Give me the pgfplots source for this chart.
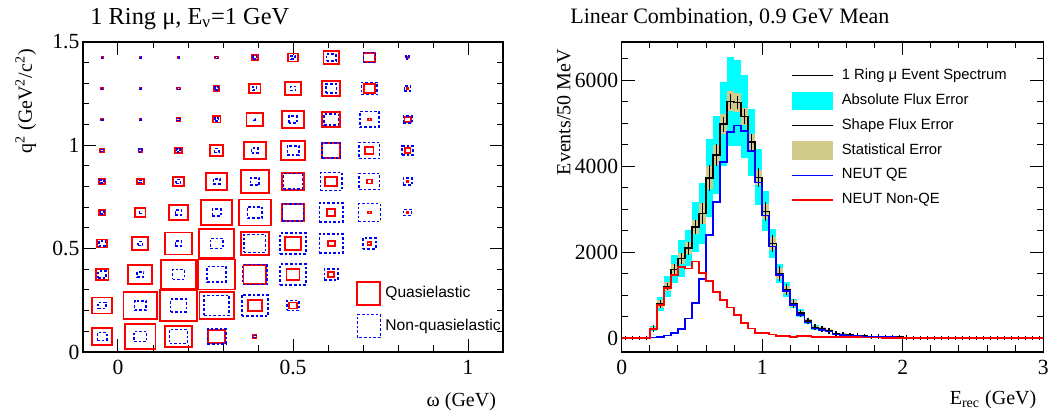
\documentclass[border=0pt]{standalone}
\usepackage{fontspec}
\setmainfont{Liberation Serif}
\newfontfamily\hv{Liberation Sans}
\usepackage{pgfplots}
\usepackage{pgfplotstable}
\pgfplotsset{compat=1.18}
\definecolor{stattan}{HTML}{D1CB8C}
\definecolor{rootcyan}{RGB}{0,255,255}

% box sizes as a fraction of the bin (QE red, non-QE blue)
\pgfplotstableread{
x y q n
-0.0455 0.075 0.53 0.25
0.0636 0.075 0.79 0.33
0.1727 0.075 0.70 0.46
0.2818 0.075 0.44 0.48
0.3909 0.075 0.09 0.07
-0.0455 0.225 0.51 0.20
0.0636 0.225 0.87 0.30
0.1727 0.225 0.98 0.41
0.2818 0.225 0.89 0.65
0.3909 0.225 0.37 0.68
0.5000 0.225 0.19 0.31
-0.0455 0.375 0.33 0.21
0.0636 0.375 0.63 0.17
0.1727 0.375 0.92 0.31
0.2818 0.375 0.97 0.50
0.3909 0.375 0.59 0.63
0.5000 0.375 0.34 0.67
0.6091 0.375 0.16 0.35
-0.0455 0.525 0.26 0.17
0.0636 0.525 0.42 0.12
0.1727 0.525 0.71 0.16
0.2818 0.525 0.92 0.33
0.3909 0.525 0.72 0.57
0.5000 0.525 0.40 0.67
0.6091 0.525 0.18 0.61
0.7182 0.525 0.10 0.34
-0.0455 0.675 0.14 0.09
0.0636 0.675 0.27 0.05
0.1727 0.675 0.49 0.16
0.2818 0.675 0.80 0.22
0.3909 0.675 0.84 0.37
0.5000 0.675 0.56 0.56
0.6091 0.675 0.21 0.61
0.7182 0.675 0.07 0.57
0.8273 0.675 0.03 0.20
-0.0455 0.825 0.14 0.10
0.0636 0.825 0.18 0.07
0.1727 0.825 0.28 0.12
0.2818 0.825 0.54 0.17
0.3909 0.825 0.74 0.23
0.5000 0.825 0.57 0.50
0.6091 0.825 0.31 0.57
0.7182 0.825 0.13 0.53
0.8273 0.825 0.05 0.22
-0.0455 0.975 0.10 0.07
0.0636 0.975 0.09 0.09
0.1727 0.975 0.17 0.09
0.2818 0.975 0.34 0.12
0.3909 0.975 0.57 0.16
0.5000 0.975 0.63 0.30
0.6091 0.975 0.48 0.48
0.7182 0.975 0.21 0.53
0.8273 0.975 0.15 0.28
-0.0455 1.125 0.04 0.04
0.0636 1.125 0.035 0.035
0.1727 1.125 0.10 0.07
0.2818 1.125 0.20 0.09
0.3909 1.125 0.43 0.035
0.5000 1.125 0.56 0.22
0.6091 1.125 0.48 0.37
0.7182 1.125 0.07 0.50
0.8273 1.125 0.16 0.22
-0.0455 1.275 0.04 0.035
0.0636 1.275 0.035 0.035
0.1727 1.275 0.07 0.05
0.2818 1.275 0.14 0.09
0.3909 1.275 0.30 0.10
0.5000 1.275 0.41 0.14
0.6091 1.275 0.48 0.28
0.7182 1.275 0.28 0.40
0.8273 1.275 0.04 0.16
-0.0455 1.425 0.035 0.035
0.0636 1.425 0.035 0.035
0.1727 1.425 0.035 0.03
0.2818 1.425 0.07 0.05
0.3909 1.425 0.16 0.09
0.5000 1.425 0.26 0.10
0.6091 1.425 0.40 0.24
0.7182 1.425 0.31 0.31
0.8273 1.425 0.05 0.09
}\boxtab

% 50 MeV bins, left edges; last row closes the histogram
\pgfplotstableread{
e tot qe nqe abs stat shp
0.00 0 0 0 0 0 0
0.05 0 0 0 0 0 0
0.10 0 0 0 0 0 0
0.15 0 0 0 0 0 0
0.20 215 12 203 60 40 30
0.25 790 30 760 155 100 40
0.30 1200 60 1170 250 110 45
0.35 1600 120 1470 330 120 65
0.40 1850 218 1645 430 130 80
0.45 2090 452 1620 420 140 100
0.50 2580 820 1780 585 170 120
0.55 2900 1380 1520 720 250 200
0.60 3730 2400 1330 910 270 250
0.65 4260 3160 1080 915 235 210
0.70 4980 4100 880 985 235 130
0.75 5510 4800 710 1030 230 120
0.80 5480 4950 530 1000 220 110
0.85 5160 4820 350 975 200 120
0.90 4560 4350 220 780 190 140
0.95 3740 3620 125 650 180 170
1.00 2950 2850 115 470 170 170
1.05 2200 2130 80 330 150 150
1.10 1500 1466 40 215 120 120
1.15 1120 1090 40 175 100 80
1.20 800 765 30 110 80 60
1.25 580 530 55 85 60 35
1.30 395 360 40 58 50 30
1.35 250 220 30 58 40 25
1.40 210 180 25 40 40 20
1.45 170 150 15 35 35 20
1.50 95 80 15 25 30 15
1.55 80 65 15 20 25 15
1.60 68 52 15 18 20 12
1.65 55 40 15 15 18 10
1.70 45 32 13 12 15 10
1.75 38 26 12 10 12 8
1.80 32 22 10 8 10 8
1.85 27 18 9 6 10 6
1.90 22 14 8 5 8 6
1.95 18 11 7 4 8 5
2.00 8 5 3 2 5 4
2.05 6 4 2 2 4 3
2.10 5 3 2 1 4 3
2.15 4 3 1 1 3 3
2.20 4 2 1 1 3 3
2.25 3 2 1 1 3 2
2.30 3 2 1 0 2 2
2.35 2 1 1 0 2 2
2.40 2 1 1 0 2 2
2.45 2 1 0 0 2 2
2.50 1 1 0 0 1 2
2.55 1 1 0 0 1 2
2.60 1 0 0 0 1 2
2.65 1 0 0 0 1 2
2.70 1 0 0 0 1 2
2.75 0 0 0 0 1 2
2.80 0 0 0 0 1 2
2.85 0 0 0 0 1 2
2.90 0 0 0 0 1 2
2.95 0 0 0 0 1 2
3.00 0 0 0 0 0 0
}\spec

\pgfplotsset{rootframe/.style={
  scale only axis, height=155pt,
  axis line style={line width=0.55pt},
  tick style={line width=0.5pt, black},
  tick align=inside,
  major tick length=6.5pt, minor tick length=3.25pt,
  /pgf/number format/assume math mode=true,
  /pgf/number format/1000 sep={},
  scaled ticks=false,
  tick label style={font=\fontsize{10.8}{12}\selectfont},
  yticklabel style={inner sep=0pt, xshift=-1.6pt},
  xticklabel style={inner sep=0pt, yshift=-4pt},
  label style={font=\fontsize{11.3}{13}\selectfont},
  every axis y label/.style={at={(axis description cs:-0.122,1)}, rotate=90, anchor=base east},
  legend cell align=left,
}}

\begin{document}
\begin{tikzpicture}
\useasboundingbox (-41.5pt,-32pt) rectangle (487.5pt,176pt);

\begin{axis}[rootframe, at={(0pt,0pt)}, anchor=south west, width=210pt,
  xmin=-0.1, xmax=1.1, ymin=0, ymax=1.5,
  xtick={0,0.5,1}, ytick={0,0.5,1,1.5},
  minor x tick num=4, minor y tick num=4,
  xlabel={ω (GeV)},
  ylabel={q\textsuperscript{2} (GeV\textsuperscript{2}/c\textsuperscript{2})},
  every axis x label/.style={at={(axis description cs:1,-0.1774)}, anchor=base east},
  extra description/.code={\node[anchor=base west, inner sep=0pt, font=\fontsize{12.2}{14}\selectfont]
    at (0.0167,1.058) {1 Ring μ, E\textsubscript{ν}=1 GeV};},
  legend style={at={(axis description cs:0.65,0.2306)}, anchor=north west,
    draw=none, fill=none, inner sep=0pt, row sep=4pt,
    font=\hv\fontsize{7.8}{9}\selectfont, nodes={inner sep=0pt},
    /tikz/every odd column/.append style={column sep=2pt}},
]
\addlegendimage{legend image code/.code={\draw[red, line width=1pt] (0pt,-5.75pt) rectangle (11.5pt,5.75pt);}}
\addlegendentry{Quasielastic}
\addlegendimage{legend image code/.code={\draw[blue, line width=0.75pt, dash pattern=on 1.3pt off 1pt] (0pt,-5.75pt) rectangle (11.5pt,5.75pt);}}
\addlegendentry{Non-quasielastic}

\addplot[only marks, mark=none, forget plot, nodes near coords={},
  visualization depends on={\thisrow{q} \as \fq},
  every node near coord/.style={draw=red, line width=0.9pt, inner sep=0pt, outer sep=0pt,
    anchor=center, minimum width={\fq*19.17pt}, minimum height={\fq*15.5pt}}]
  table[x=x, y=y] {\boxtab};
\addplot[only marks, mark=none, forget plot, nodes near coords={},
  visualization depends on={\thisrow{n} \as \fn},
  every node near coord/.style={draw=blue, line width=0.75pt, dash pattern=on 1.3pt off 1pt,
    inner sep=0pt, outer sep=0pt,
    anchor=center, minimum width={\fn*19.17pt}, minimum height={\fn*15.5pt}}]
  table[x=x, y=y] {\boxtab};
\end{axis}

\begin{axis}[rootframe, at={(269.35pt,0pt)}, anchor=south west, width=210.8pt,
  xmin=0, xmax=3, ymin=-326, ymax=6892,
  xtick={0,1,2,3}, ytick={0,2000,4000,6000},
  minor x tick num=4, minor ytick={0,500,...,6500},
  xlabel={E\textsubscript{rec} (GeV)}, ylabel={Events/50 MeV},
  every axis x label/.style={at={(axis description cs:1,-0.168)}, anchor=base east},
  extra description/.code={\node[anchor=base west, inner sep=0pt, font=\fontsize{11}{13}\selectfont]
    at (-0.1226,1.061) {Linear Combination, 0.9 GeV Mean};},
  legend style={at={(axis description cs:0.4016,0.9206)}, anchor=north west,
    draw=none, fill=none, inner sep=0pt, row sep=3.55pt,
    font=\hv\fontsize{7.4}{9}\selectfont, nodes={inner sep=0pt},
    /tikz/every odd column/.append style={column sep=4.2pt}},
]
\addlegendimage{legend image code/.code={\path[draw=none, fill=none] (0pt,-4.35pt) rectangle (20.3pt,4.35pt); \draw[black, line width=0.6pt] (0pt,0pt) -- (20.3pt,0pt);}}
\addlegendentry{1 Ring μ Event Spectrum}
\addlegendimage{legend image code/.code={\fill[rootcyan] (0pt,-4.35pt) rectangle (20.3pt,4.35pt);}}
\addlegendentry{Absolute Flux Error}
\addlegendimage{legend image code/.code={\path[draw=none, fill=none] (0pt,-4.35pt) rectangle (20.3pt,4.35pt); \draw[black, line width=0.6pt] (0pt,0pt) -- (20.3pt,0pt);}}
\addlegendentry{Shape Flux Error}
\addlegendimage{legend image code/.code={\fill[stattan] (0pt,-4.35pt) rectangle (20.3pt,4.35pt);}}
\addlegendentry{Statistical Error}
\addlegendimage{legend image code/.code={\path[draw=none, fill=none] (0pt,-4.35pt) rectangle (20.3pt,4.35pt); \draw[blue, line width=0.7pt] (0pt,0pt) -- (20.3pt,0pt);}}
\addlegendentry{NEUT QE}
\addlegendimage{legend image code/.code={\path[draw=none, fill=none] (0pt,-4.35pt) rectangle (20.3pt,4.35pt); \draw[red, line width=0.7pt] (0pt,0pt) -- (20.3pt,0pt);}}
\addlegendentry{NEUT Non-QE}

% error bands: one bin-wide bar per bin
\addplot[draw=none, mark=none, forget plot,
  error bars/.cd, y dir=both, y explicit, error mark=none,
  error bar style={draw=rootcyan, line width=3.6pt, line cap=butt}]
  table[x expr=\thisrow{e}+0.025, y=tot, y error=abs] {\spec};
\addplot[draw=none, mark=none, forget plot,
  error bars/.cd, y dir=both, y explicit, error mark=none,
  error bar style={draw=stattan, line width=3.6pt, line cap=butt}]
  table[x expr=\thisrow{e}+0.025, y=tot, y error=stat] {\spec};

\addplot[black, line width=0.75pt, const plot mark left, forget plot] table[x=e, y=tot] {\spec};
\addplot[draw=none, mark=none, forget plot,
  error bars/.cd, y dir=both, y explicit,
  error bar style={draw=black, line width=0.6pt},
  error mark options={draw=black, line width=0.6pt, mark size=1pt}]
  table[x expr=\thisrow{e}+0.025, y=tot, y error=shp] {\spec};
\addplot[blue, line width=0.9pt, const plot mark left, forget plot] table[x=e, y=qe] {\spec};
\addplot[red, line width=0.9pt, const plot mark left, forget plot] table[x=e, y=nqe] {\spec};
\end{axis}
\end{tikzpicture}
\end{document}
